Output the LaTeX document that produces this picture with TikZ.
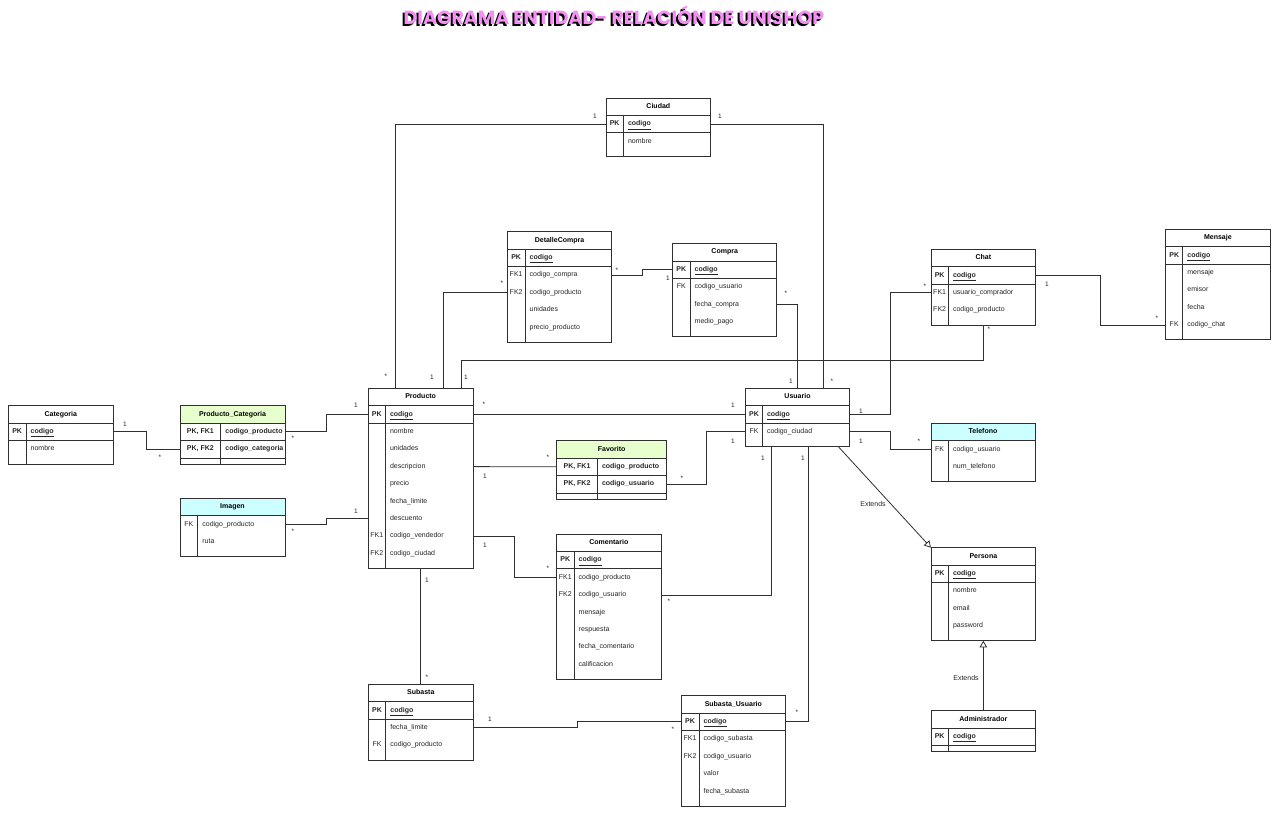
\documentclass[tikz,border=0pt]{standalone}
\usepackage{fontspec}
\setmainfont{Liberation Sans}
\newfontfamily\titulofont{Poppins}
\usepackage{tikz}
\usetikzlibrary{arrows,positioning,calc}
\definecolor{verdeasoc}{HTML}{E6FFCC}
\definecolor{cianfk}{HTML}{CCFFFF}
\definecolor{rosatitulo}{HTML}{F490F4}
\definecolor{trazo}{HTML}{303030}
\newcommand\letra{\fontsize{7}{8}\selectfont}
% tabla: nombre, x, y, ancho, ancho clave, relleno, titulo, filas
\newcommand\entidad[8]{%
  \node[cabecera, fill=#6, minimum width=#4, anchor=north west] (#1) at (#2,#3) {#7};
  \foreach \clave/\campo/\tipo [count=\i] in {#8} {
    \node[fila, minimum width=#4, anchor=north west] (#1-\i) at (#2,#3+17.4*\i) {};
    \node[clave\tipo] (#1-\i-k) at ($(#1-\i.west)+(#5/2,0)$) {\clave};
    \node[campo\tipo] (#1-\i-c) at ($(#1-\i.west)+(#5+4.5,0)$) {\campo};
    \draw[sep\tipo] (#1-\i.south west) -- (#1-\i.south east);
    \coordinate (#1-fin) at (#2,#3+17.4*\i+23.4);
  }
  \draw[marco] (#1.north west) rectangle ($(#1-fin)+(#4,0)$);
  \draw[marco] ($(#1.south west)+(#5,0)$) -- ($(#1-fin)+(#5,0)$);
}
\tikzset{
  marco/.style={draw=trazo, line width=0.8pt},
  cabecera/.style={marco, inner sep=0pt, outer sep=0pt, minimum height=17.4, text height=5pt, text depth=1.5pt, font=\letra\bfseries},
  fila/.style={inner sep=0pt, outer sep=0pt, minimum height=17.4},
  texto/.style={inner sep=0pt, text height=5pt, text depth=1.5pt, text=black!85},
  clavepk/.style={texto, font=\letra\bfseries},
  campopk/.style={texto, anchor=west, font=\letra\bfseries},
  claveak/.style={texto, font=\letra\bfseries},
  campoak/.style={texto, anchor=west, font=\letra\bfseries},
  claven/.style={texto, font=\letra},
  campon/.style={texto, anchor=west, font=\letra},
  seppk/.style={marco},
  sepak/.style={marco},
  sepn/.style={draw=none},
  rel/.style={marco},
  codo/.style={to path={-| ($(\tikztostart)!.5!(\tikztotarget)$) |- (\tikztotarget)}},
  hereda/.style={marco, -open triangle 60},
  card/.style={inner sep=0pt, font=\fontsize{6.5}{7}\selectfont, text=black!85},
  titulo/.style={inner sep=0pt, font=\titulofont\bfseries\fontsize{19}{21}\selectfont}
}

\begin{document}
\begin{tikzpicture}[x=1pt, y=-1pt]
\fill[white] (0,0) rectangle (1280,815);
\useasboundingbox (0,0) rectangle (1280,815);

\node[titulo, text=black] (sombra) at (612,17) {DIAGRAMA ENTIDAD- RELACIÓN DE UNISHOP};
\node[titulo, text=rosatitulo] (titulo) at (614,15) {DIAGRAMA ENTIDAD- RELACIÓN DE UNISHOP};

\entidad{categoria}{8.3}{405.7}{105}{17.7}{white}{Categoria}{PK/\underline{codigo}/pk,{}/nombre/n}
\entidad{prodcat}{180}{405.7}{105}{40.7}{verdeasoc}{Producto\_Categoria}{{PK, FK1}/codigo\_producto/ak,{PK, FK2}/codigo\_categoria/ak}
\entidad{imagen}{180}{498.3}{105}{17.7}{cianfk}{Imagen}{FK/codigo\_producto/n,{}/ruta/n}
\entidad{producto}{368.3}{388.3}{104.7}{17}{white}{Producto}{PK/\underline{codigo}/pk,{}/nombre/n,{}/unidades/n,{}/descripcion/n,{}/precio/n,{}/fecha\_limite/n,{}/descuento/n,FK1/codigo\_vendedor/n,FK2/codigo\_ciudad/n}
\entidad{ciudad}{606}{98}{104.7}{17.3}{white}{Ciudad}{PK/\underline{codigo}/pk,{}/nombre/n}
\entidad{detalle}{507.3}{231.7}{104.4}{17.7}{white}{DetalleCompra}{PK/\underline{codigo}/pk,FK1/codigo\_compra/n,FK2/codigo\_producto/n,{}/unidades/n,{}/precio\_producto/n}
\entidad{compra}{672.7}{243.5}{104}{17.3}{white}{Compra}{PK/\underline{codigo}/pk,FK/codigo\_usuario/n,{}/fecha\_compra/n,{}/medio\_pago/n}
\entidad{chat}{931}{249.3}{104.7}{17.3}{white}{Chat}{PK/\underline{codigo}/pk,FK1/usuario\_comprador/n,FK2/codigo\_producto/n}
\entidad{mensaje}{1165.7}{229.3}{104.3}{17}{white}{Mensaje}{PK/\underline{codigo}/pk,{}/mensaje/n,{}/emisor/n,{}/fecha/n,FK/codigo\_chat/n}
\entidad{usuario}{745.7}{388.3}{103.6}{16.6}{white}{Usuario}{PK/\underline{codigo}/pk,FK/codigo\_ciudad/n}
\entidad{telefono}{931}{423.3}{104}{17.3}{cianfk}{Telefono}{FK/codigo\_usuario/n,{}/num\_telefono/n}
\entidad{favorito}{556.7}{440.7}{110}{40.6}{verdeasoc}{Favorito}{{PK, FK1}/codigo\_producto/ak,{PK, FK2}/codigo\_usuario/ak}
\entidad{comentario}{556.7}{534}{104.3}{17.3}{white}{Comentario}{PK/\underline{codigo}/pk,FK1/codigo\_producto/n,FK2/codigo\_usuario/n,{}/mensaje/n,{}/respuesta/n,{}/fecha\_comentario/n,{}/calificacion/n}
\entidad{subasta}{368.3}{684.3}{105}{17.4}{white}{Subasta}{PK/\underline{codigo}/pk,{}/fecha\_limite/n,FK/codigo\_producto/n}
\entidad{subusu}{681}{695.7}{104.7}{18}{white}{Subasta\_Usuario}{PK/\underline{codigo}/pk,FK1/codigo\_subasta/n,FK2/codigo\_usuario/n,{}/valor/n,{}/fecha\_subasta/n}
\entidad{persona}{931}{547.7}{104.7}{17.3}{white}{Persona}{PK/\underline{codigo}/pk,{}/nombre/n,{}/email/n,{}/password/n}
\entidad{administrador}{931}{710.7}{104.7}{17.3}{white}{Administrador}{PK/\underline{codigo}/pk}

% relaciones
\draw[rel] (categoria-1.east) to[codo] (prodcat-2.west);
\draw[rel] (prodcat-1.east) to[codo] (producto-1.west);
\draw[rel] (imagen-1.east) to[codo] (producto-7.west);
\draw[rel] (ciudad-1.west) -| ([xshift=27]producto.north west);
\draw[rel] (detalle-3.west) -| ([xshift=75]producto.north west);
\draw[rel] ([xshift=52]chat-fin) |- ++(0,35) -| ([xshift=93]producto.north west);
\draw[rel] (ciudad-1.east) -| ([xshift=77.5]usuario.north west);
\draw[rel] (compra-3.east) -| ([xshift=51.5]usuario.north west);
\draw[rel] (detalle-2.east) to[codo] (compra-1.west);
\draw[rel] (producto-1.east) -- (usuario-1.west);
\draw[rel] (producto-4.east) -- (favorito-1.west);
\draw[rel] (favorito-2.east) to[codo] (usuario-2.west);
\draw[rel] (producto-8.east) to[codo] (comentario-2.west);
\draw[rel] (comentario-3.east) -| ([xshift=25.5]usuario-fin);
\draw[rel] ([xshift=52.4]producto-fin) -- ([xshift=52.4]subasta.north west);
\draw[rel] (subasta-2.east) to[codo] (subusu-1.west);
\draw[rel] (subusu-1.east) -| ([xshift=62.5]usuario-fin);
\draw[rel] (usuario-2.east) to[codo] (telefono-1.west);
\draw[rel] (usuario-1.east) to[codo] (chat-2.west);
\draw[rel] (chat-1.east) to[codo] (mensaje-5.west);
\draw[hereda] ([xshift=92.5]usuario-fin) -- (persona.north west);
\draw[hereda] (administrador.north) -- (administrador.north |- persona-fin);

% cardinalidades
\foreach \txt/\px/\py [count=\n] in {1/125/424,*/160/457,*/293/438,1/356/405,*/293/531,1/356/511,
  */386/376,1/595/116,1/432/377,*/502/283,1/466/377,*/989/329,1/720/116,*/832/381,
  */786/293,1/791/381,*/617/270,1/668/278,*/484/404,1/733/405,1/485/476,*/548/457,
  */682/478,1/733/441,1/485/545,*/548/568,*/669/601,1/763/458,1/427/580,*/427/677,
  1/490/719,*/673/729,*/797/712,1/803/458,1/861/441,*/919/441,1/861/411,*/925/286,
  1/1047/284,*/1157/318}
  \node[card] (card\n) at (\px,\py) {\txt};
\node[card, font=\letra] (ext1) at (873,504) {Extends};
\node[card, font=\letra] (ext2) at (966,678) {Extends};
\end{tikzpicture}
\end{document}
